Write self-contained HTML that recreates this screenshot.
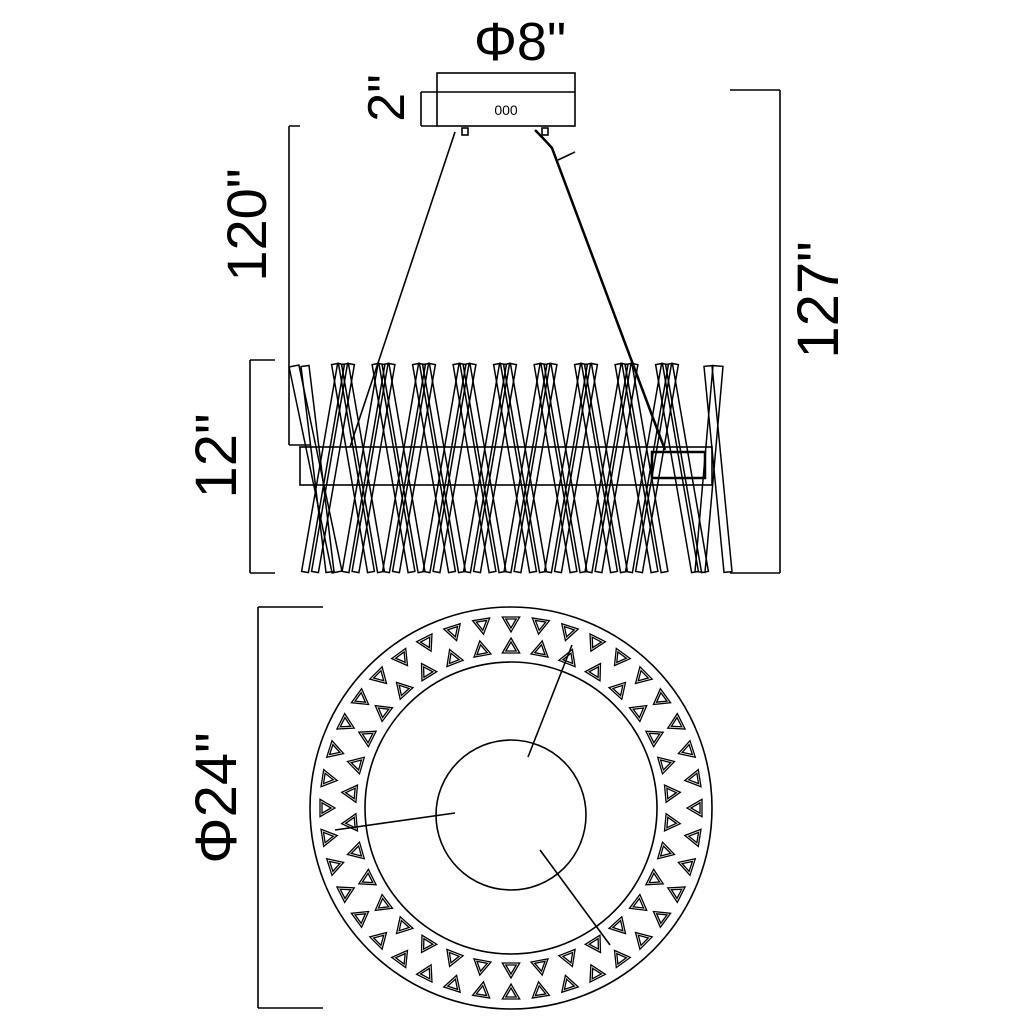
<!DOCTYPE html>
<html><head><meta charset="utf-8"><style>body{margin:0;background:#fff}svg{display:block}text{font-family:"Liberation Sans",sans-serif;fill:#000}</style></head>
<body>
<svg id="s" width="1024" height="1024" viewBox="0 0 1024 1024" xmlns="http://www.w3.org/2000/svg" fill="none" stroke="#000" stroke-width="1.6">
<text x="520" y="60" font-size="54" text-anchor="middle" stroke="none">Φ8"</text>
<text x="0" y="0" font-size="52" text-anchor="middle" stroke="none" transform="translate(404,98) rotate(-90)">2"</text>
<text x="0" y="0" font-size="56" text-anchor="middle" stroke="none" transform="translate(266,225) rotate(-90)">120"</text>
<text x="0" y="0" font-size="58" text-anchor="middle" stroke="none" transform="translate(838,300) rotate(-90)">127"</text>
<text x="0" y="0" font-size="58" text-anchor="middle" stroke="none" transform="translate(236,456) rotate(-90)">12"</text>
<text x="0" y="0" font-size="58" text-anchor="middle" stroke="none" transform="translate(236,798) rotate(-90)">Φ24"</text>
<!-- canopy -->
<rect x="437" y="73" width="138" height="53"/>
<line x1="437" y1="92" x2="575" y2="92"/>
<path d="M421 92H437M421 126H437M421 92V126"/>
<text x="506" y="115" font-size="14" text-anchor="middle" stroke="none">000</text>
<rect x="462" y="128" width="6" height="7"/><rect x="542" y="128" width="6" height="7"/>
<!-- dims -->
<path d="M289 126H300M289 126V445M289 445H310"/>
<path d="M730 90H780M780 90V573M730 573H780"/>
<path d="M250 360H275M250 360V573M250 573H275"/>
<path d="M258 607H323M258 607V1008M258 1008H323"/>
<!-- cables -->
<line x1="455" y1="132" x2="350" y2="447"/>
<path d="M535 130 Q545 140 552 148 L665 450" stroke-width="2.5"/>
<line x1="558" y1="160" x2="575" y2="152"/>
<g id="rods" stroke-width="1.5"></g>
<rect x="300" y="447" width="412" height="38"/>
<rect x="652" y="452" width="53" height="26" stroke-width="2.5"/>
<!-- plan view -->
<circle cx="511" cy="808" r="201"/>
<circle cx="511" cy="808" r="146"/>
<circle cx="511" cy="815" r="75"/>
<line x1="528" y1="757" x2="572" y2="645"/>
<line x1="335" y1="830" x2="455" y2="813"/>
<line x1="540" y1="850" x2="610" y2="945"/>
<g id="tri" stroke-width="1.3"></g>
</svg>
<script>
var ns="http://www.w3.org/2000/svg",R=document.getElementById("rods"),T=document.getElementById("tri");
function poly(g,pts){var p=document.createElementNS(ns,"polygon");p.setAttribute("points",pts.map(function(a){return a[0].toFixed(1)+","+a[1].toFixed(1)}).join(" "));g.appendChild(p);}
function rod(x1,y1,x2,y2,w){var dx=x2-x1,dy=y2-y1,l=Math.hypot(dx,dy),nx=-dy/l*w/2,ny=dx/l*w/2;poly(R,[[x1+nx,y1+ny],[x2+nx,y2+ny],[x2-nx,y2-ny],[x1-nx,y1-ny]]);}
for(var i=0;i<9;i++){var c=343+i*40.5;
 rod(c-8,364,c+28,572,7);rod(c+2,364,c+38,572,7);
 rod(c+8,364,c-28,572,7);rod(c-2,364,c-38,572,7);}
rod(294,366,337,572,10);rod(305,366,330,572,8);
rod(718,366,700,572,10);rod(708,366,728,572,8);
function tri(cx,cy,ang,s){var p=[];for(var k=0;k<3;k++){var a=ang+k*2*Math.PI/3;p.push([cx+s*Math.cos(a),cy+s*Math.sin(a)]);}poly(T,p);
 var q=p.map(function(v){return [cx+(v[0]-cx)*0.6,cy+(v[1]-cy)*0.6]});poly(T,q);}
for(var k=0;k<40;k++){var a=k*2*Math.PI/40;tri(511+186*Math.cos(a),808+186*Math.sin(a),a+Math.PI,10);}
for(var k=0;k<34;k++){var a=(k+0.5)*2*Math.PI/34;tri(511+160*Math.cos(a),808+160*Math.sin(a),a,10);}
</script>
</body></html>
